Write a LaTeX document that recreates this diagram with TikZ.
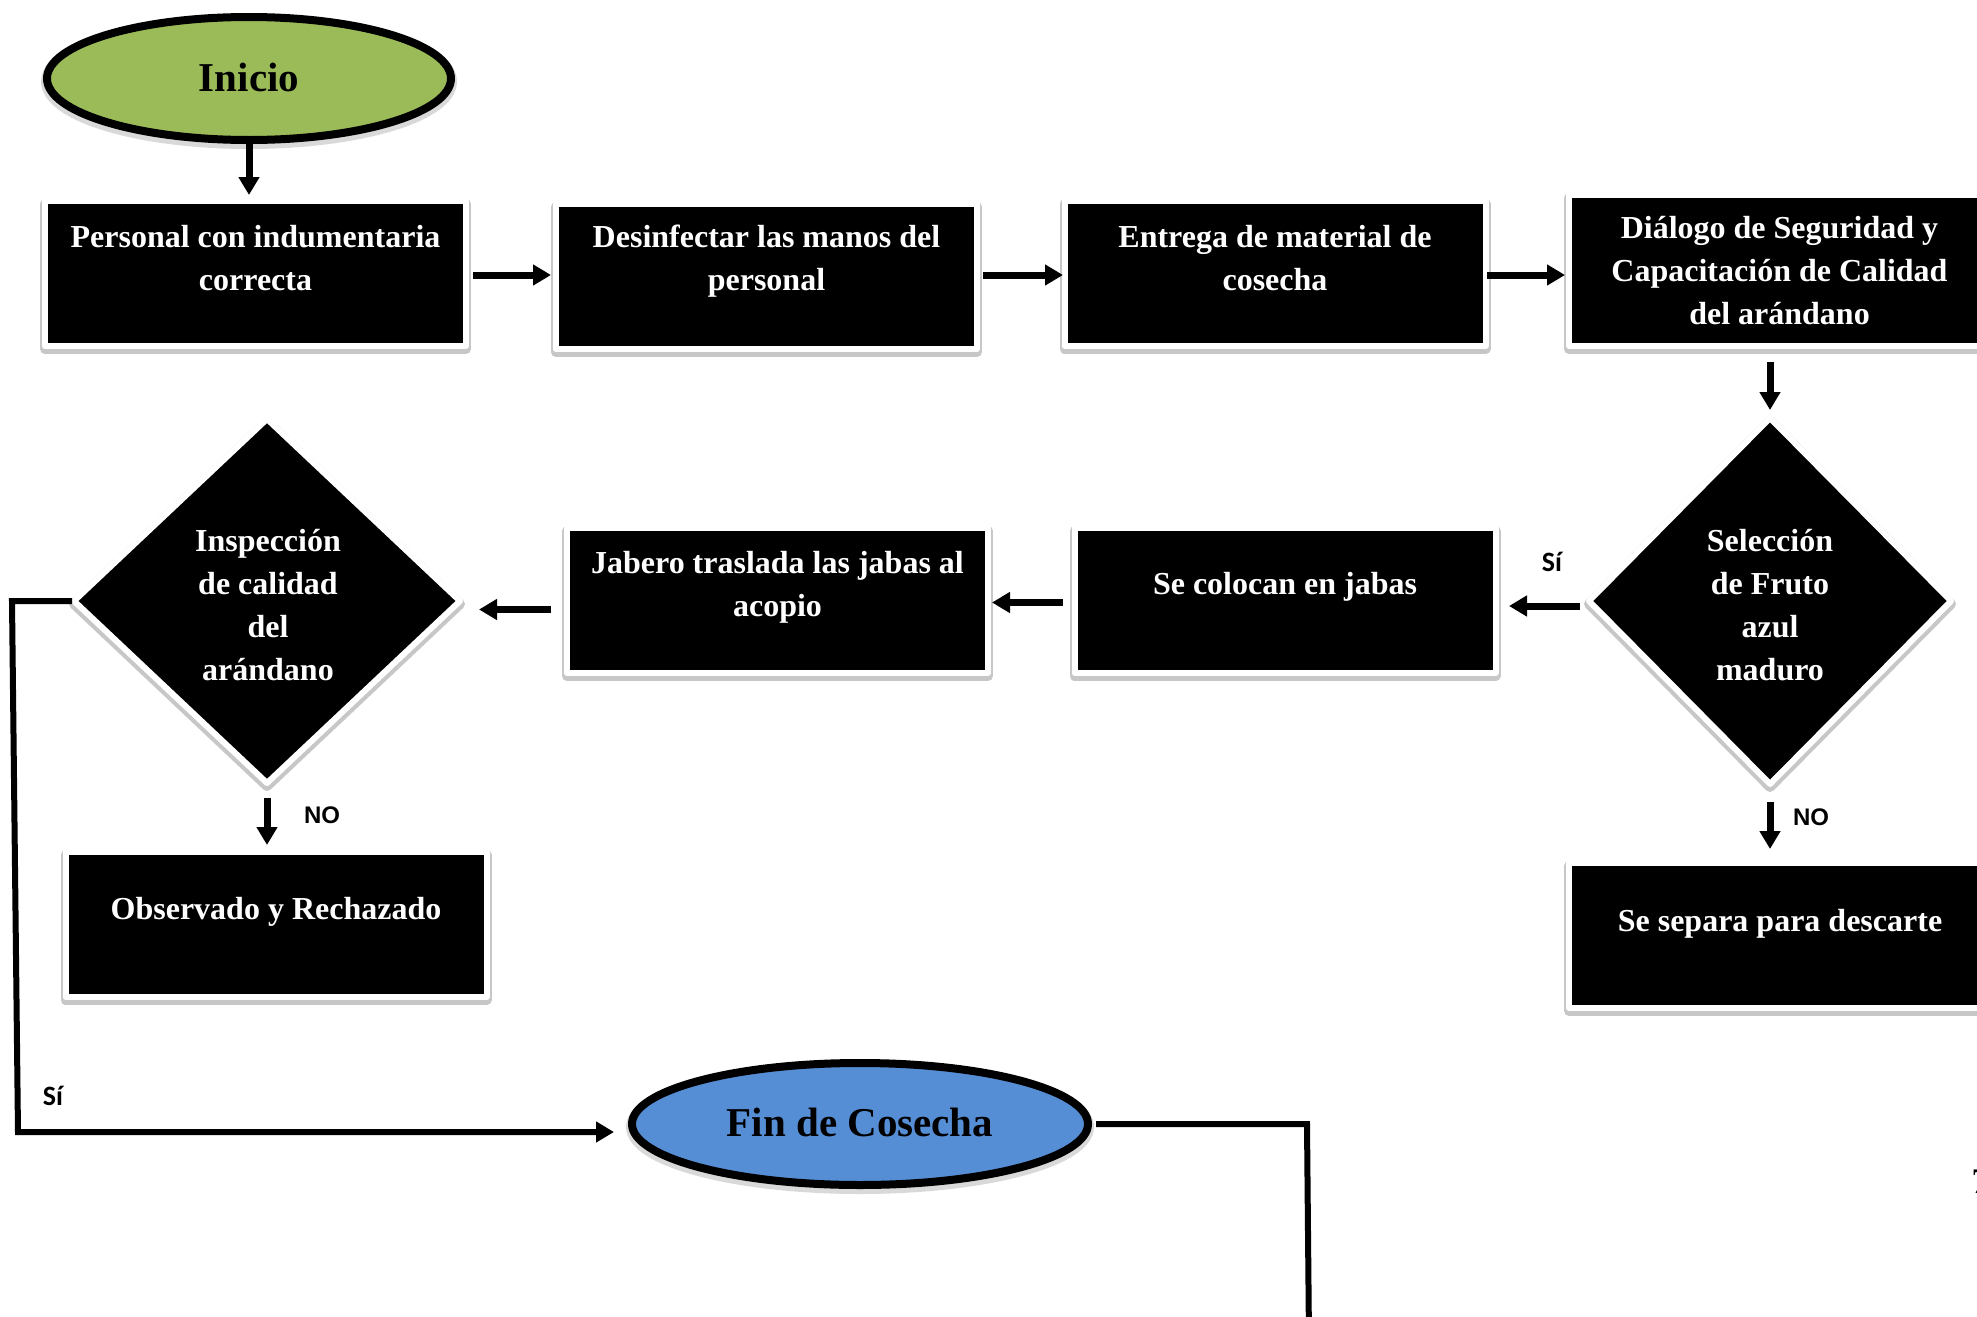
\documentclass[tikz,border=0pt]{standalone}
\usepackage{fontspec}
\setmainfont{Liberation Serif}
\newfontfamily\labfont{Liberation Sans}
\newfontfamily\califont{Carlito}
\usetikzlibrary{shapes.geometric,arrows.meta}
\definecolor{inigreen}{HTML}{9BBB59}
\definecolor{finblue}{HTML}{558ED5}
\begin{document}
\begin{tikzpicture}[x=0.5pt,y=-0.5pt,
  pbox/.style={rectangle, fill=black, draw=white, line width=3pt, line join=round,
    minimum width=210.5pt, minimum height=72.5pt, inner sep=0pt, outer sep=0pt,
    preaction={draw=black!22, line width=5pt, transform canvas={yshift=-1.5pt}}},
  dmd/.style={diamond, fill=black, draw=white, line width=3pt, line join=round,
    inner sep=0pt, outer sep=0pt,
    preaction={draw=black!22, line width=5pt, transform canvas={yshift=-1.5pt}}},
  ell/.style={ellipse, draw=black, line width=4pt, inner sep=0pt, outer sep=0pt,
    font=\fontsize{20.5}{24}\selectfont\bfseries,
    preaction={draw=black!15, line width=6pt, transform canvas={yshift=-1.5pt}}},
  btext/.style={text=white, font=\fontsize{16}{21.5}\selectfont\bfseries, align=center, inner sep=0pt},
  arr/.style={line width=3.5pt, -{Triangle[width=10pt,length=9pt]}},
  conn/.style={line width=3pt},
  nolab/.style={font=\labfont\fontsize{12}{14}\selectfont\bfseries, inner sep=0pt},
  silab/.style={font=\califont\fontsize{14}{16}\selectfont\bfseries, inner sep=0pt}]
\useasboundingbox (0,0) rectangle (1977,1317);

% start / end
\node[ell, fill=inigreen, minimum width=202pt, minimum height=61.5pt] (ini) at (249,78.5) {\raisebox{1.5pt}{Inicio}};
\node[ell, fill=finblue, minimum width=228pt, minimum height=61pt] (fin) at (860,1124) {\raisebox{2pt}{Fin de Cosecha}};

% row 1
\node[pbox] (b1) at (255.5,273.5) {};
\node[btext] (t1) at (255.5,258) {Personal con indumentaria\\correcta};
\node[pbox] (b2) at (766.5,276.5) {};
\node[btext] (t2) at (766.5,261) {Desinfectar las manos del\\personal};
\node[pbox] (b3) at (1275,273.5) {};
\node[btext] (t3) at (1275,258) {Entrega de material de\\cosecha};
\node[pbox, minimum height=75.5pt] (b4) at (1779.5,270.5) {};
\node[btext] (t4) at (1779.5,271) {Diálogo de Seguridad y\\Capacitación de Calidad\\del arándano};

% row 2
\node[dmd, minimum width=181pt, minimum height=183pt] (sel) at (1770,601) {};
\node[btext] (tsel) at (1770,605) {Selección\\de Fruto\\azul\\maduro};
\node[pbox] (col) at (1285,600.5) {};
\node[btext] (tcol) at (1285,587) {Se colocan en jabas};
\node[pbox] (jab) at (777.5,600.5) {};
\node[btext] (tjab) at (777.5,587) {Jabero traslada las jabas al\\acopio};
\node[dmd, minimum width=193pt, minimum height=182pt] (insp) at (267,601) {};
\node[btext] (tinsp) at (268,605) {Inspección\\de calidad\\del\\arándano};

% row 3
\node[pbox] (obs) at (276,924.5) {};
\node[btext] (tobs) at (276,912) {Observado y Rechazado};
\node[pbox] (sep) at (1779.5,935.5) {};
\node[btext] (tsep) at (1780,924) {Se separa para descarte};

% labels
\node[nolab] (no1) at (322,815) {NO};
\node[nolab] (no2) at (1811,817) {NO};
\node[silab] (si1) at (1552,562) {Sí};
\node[silab] (si2) at (53,1096) {Sí};
\node[font=\fontsize{18}{20}\selectfont, anchor=base west, inner sep=0pt] (pg) at (1971,1193) {7};

% connectors
\draw[arr, shorten <=1.5pt, shorten >=3pt] (ini.south) -- (ini.south |- b1.north);
\draw[arr, shorten <=3.5pt, shorten >=2.5pt] ([yshift=-0.75pt]b1.east) -- ([yshift=-0.75pt]b1.east -| b2.west);
\draw[arr, shorten <=3pt, shorten >=0.75pt] ([yshift=0.75pt]b2.east) -- ([yshift=0.75pt]b2.east -| b3.west);
\draw[arr, shorten <=0.75pt, shorten >=2pt] ([yshift=-0.75pt]b3.east) -- ([yshift=-0.75pt]b3.east -| b4.west);
\draw[arr, shorten <=8pt, shorten >=4pt] (sel.north |- b4.south) -- (sel.north);
\draw[arr, shorten <=4.5pt, shorten >=6.75pt] ([yshift=-2.5pt]sel.west) -- ([yshift=-2.5pt]sel.west -| col.east);
\draw[arr, shorten <=5.75pt, shorten >=2pt] ([yshift=-1pt]col.west) -- ([yshift=-1pt]col.west -| jab.east);
\draw[arr, shorten <=8pt, shorten >=9.5pt] ([yshift=-4.5pt]jab.west) -- ([yshift=-4.5pt]jab.west -| insp.east);
\draw[arr, shorten <=7.5pt, shorten >=3.5pt] (insp.south) -- (insp.south |- obs.north);
\draw[arr, shorten <=9pt, shorten >=7pt] (sel.south) -- (sel.south |- sep.north);

\coordinate (lt) at (12,601);
\coordinate (lb) at (18,1132);
\draw[conn, line join=miter, -{Triangle[width=10pt,length=9pt]}, shorten >=9pt]
  ([xshift=-1pt]insp.west) -- (lt) -- (lb) -- (fin.west |- lb);

\coordinate (fr1) at (1307,1121);
\coordinate (fr2) at (1309,1340);
\draw[conn, line join=miter, shorten <=4pt] (fin.east) -- (fin.east -| fr1) -- (fr2);
\end{tikzpicture}
\end{document}
